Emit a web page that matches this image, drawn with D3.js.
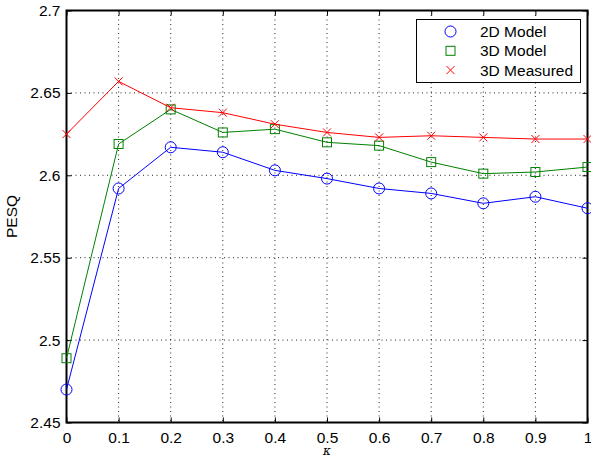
<!DOCTYPE html>
<html><head><meta charset="utf-8">
<script src="https://cdn.jsdelivr.net/npm/d3@7"></script>
<style>
html,body{margin:0;padding:0;background:#fff;}
svg{display:block;font-family:"Liberation Sans",Arial,Helvetica,sans-serif;}
</style></head>
<body><svg id="c" width="591" height="461"></svg>
<script>
const kappa = [0,0.1,0.2,0.3,0.4,0.5,0.6,0.7,0.8,0.9,1.0];
const model2D = [2.470,2.592,2.617,2.614,2.603,2.598,2.592,2.589,2.583,2.587,2.580];
const model3D = [2.489,2.619,2.640,2.626,2.628,2.620,2.618,2.608,2.601,2.602,2.605];
const measured3D = [2.625,2.657,2.641,2.638,2.631,2.626,2.623,2.624,2.623,2.622,2.622];
const xTicks = [0,0.1,0.2,0.3,0.4,0.5,0.6,0.7,0.8,0.9,1];
const yTicks = [2.45,2.5,2.55,2.6,2.65,2.7];
const seriesNames = ["2D Model","3D Model","3D Measured"];
const seriesColors = ["#0000ff","#008000","#ff0000"];
const seriesMarkers = ["circle","square","x"];

const svg = d3.select("#c");
const L=66.5, R=587.5, T=10.5, B=422.5;
const FS = 15.5;
const x = d3.scaleLinear().domain([0,1]).range([L,R]);
const y = d3.scaleLinear().domain([2.45,2.7]).range([B,T]);

// grid
const g = svg.append("g");
g.selectAll(".gx").data(xTicks.slice(1,-1)).enter().append("line")
  .attr("x1",d=>x(d)).attr("x2",d=>x(d)).attr("y1",T).attr("y2",B)
  .attr("stroke","#000").attr("stroke-width",1).attr("stroke-dasharray","1,3.5").attr("opacity",0.85);
g.selectAll(".gy").data(yTicks.slice(1,-1)).enter().append("line")
  .attr("y1",d=>y(d)).attr("y2",d=>y(d)).attr("x1",L).attr("x2",R)
  .attr("stroke","#000").attr("stroke-width",1).attr("stroke-dasharray","1,3.5").attr("opacity",0.85);

// axes
const xAxis = d3.axisBottom(x).tickValues(xTicks).tickSize(-5).tickPadding(9).tickFormat(d=>d3.format("~g")(d));
const yAxis = d3.axisLeft(y).tickValues(yTicks).tickSize(-5).tickPadding(6).tickFormat(d=>d3.format("~g")(d));
const xa = svg.append("g").attr("transform",`translate(0,${B})`).call(xAxis);
const ya = svg.append("g").attr("transform",`translate(${L},0)`).call(yAxis);
const xt = svg.append("g").attr("transform",`translate(0,${T})`).call(d3.axisTop(x).tickValues(xTicks).tickSize(-5).tickFormat(""));
const yr = svg.append("g").attr("transform",`translate(${R},0)`).call(d3.axisRight(y).tickValues(yTicks).tickSize(-5).tickFormat(""));
[xa,ya,xt,yr].forEach(a=>{
  a.select(".domain").remove();
  a.selectAll(".tick line").attr("stroke","#000").attr("stroke-width",1);
  a.selectAll(".tick text").attr("font-size",FS).attr("fill","#000")
   .attr("font-family","'Liberation Sans',Arial,sans-serif");
});
svg.append("rect").attr("x",L).attr("y",T).attr("width",R-L).attr("height",B-T)
  .attr("fill","none").attr("stroke","#000").attr("stroke-width",2);

// labels
svg.append("text").attr("x",x(0.5)).attr("y",455).attr("text-anchor","middle")
  .attr("font-size",12).attr("font-style","italic").attr("font-family","'DejaVu Serif',serif").text("κ");
svg.append("text").attr("transform",`translate(17,${(T+B)/2}) rotate(-90)`).attr("text-anchor","middle")
  .attr("font-size",FS).text("PESQ");

function marker(sel, type, color){
  if(type==="circle"){
    sel.append("circle").attr("r",5.5).attr("fill","none").attr("stroke",color).attr("stroke-width",1);
  } else if(type==="square"){
    sel.append("rect").attr("x",-4.5).attr("y",-4.5).attr("width",9).attr("height",9)
      .attr("fill","none").attr("stroke",color).attr("stroke-width",1);
  } else {
    sel.append("path").attr("d","M-4,-4L4,4M-4,4L4,-4").attr("stroke",color).attr("stroke-width",1).attr("fill","none");
  }
}

const allSeries = [model2D, model3D, measured3D];
const line = d3.line().x((d,i)=>x(kappa[i])).y(d=>y(d));
allSeries.forEach((vals,si)=>{
  svg.append("path").datum(vals).attr("d",line).attr("fill","none")
    .attr("stroke",seriesColors[si]).attr("stroke-width",1);
  vals.forEach((v,i)=>{
    const m = svg.append("g").attr("transform",`translate(${x(kappa[i])},${y(v)})`);
    marker(m, seriesMarkers[si], seriesColors[si]);
  });
});

// legend
const lg = svg.append("g");
lg.append("rect").attr("x",416.5).attr("y",19.5).attr("width",164).attr("height",63)
  .attr("fill","#fff").attr("stroke","#000").attr("stroke-width",1);
seriesNames.forEach((n,i)=>{
  const yy = 31.5 + i*19.3;
  const m = lg.append("g").attr("transform",`translate(450.5,${yy})`);
  marker(m, seriesMarkers[i], seriesColors[i]);
  lg.append("text").attr("x",480).attr("y",yy+5.5).attr("font-size",FS).text(n);
});
</script></body></html>
